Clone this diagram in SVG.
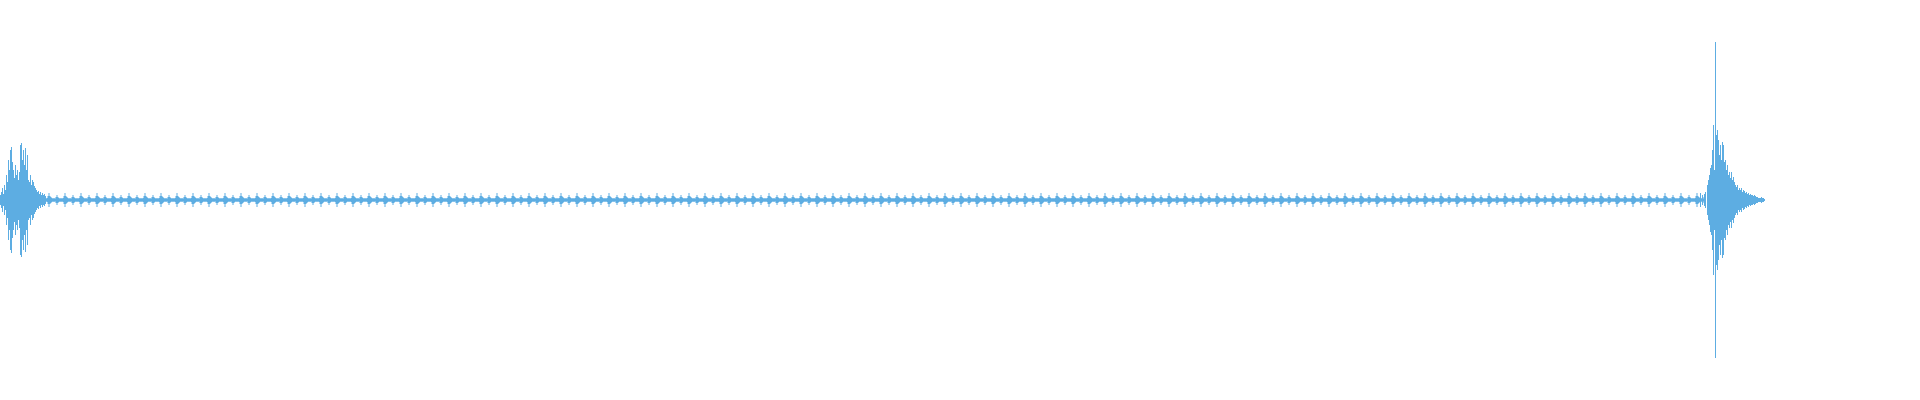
<svg xmlns="http://www.w3.org/2000/svg" width="1920" height="400" viewBox="0 0 1920 400">
<style>.w{stroke:#5dade2;stroke-width:1;fill:none}</style>
<defs>
<pattern id="noise" x="0.5" y="190" width="16" height="20" patternUnits="userSpaceOnUse">
<path class="w" d="M0.5 3V17M1.5 6V14M2.5 7V13M3.5 8V12M4.5 8.5V11.5M5.5 8V12M6.5 8.5V11.5M7.5 7V13M8.5 5V15M9.5 7V13M10.5 8V12M11.5 8.5V11.5M12.5 8V12M13.5 8.5V11.5M14.5 8V12M15.5 6V14"/>
</pattern>
</defs>
<rect width="1920" height="400" fill="#fff"/>
<rect x="46" y="190" width="1660" height="20" fill="url(#noise)"/>
<path class="w" d="M0.5 195V205M1.5 192V208M2.5 188V212M3.5 194V206M4.5 185V215M5.5 190V210M6.5 175V225M7.5 182V218M8.5 160V240M9.5 170V230M10.5 150V250M11.5 147V253M12.5 162V238M13.5 170V230M14.5 178V222M15.5 165V235M16.5 175V225M17.5 170V230M18.5 180V220M19.5 172V228M20.5 145V255M21.5 143V257M22.5 160V240M23.5 150V250M24.5 165V235M25.5 148V252M26.5 170V230M27.5 155V245M28.5 180V220M29.5 182V218M30.5 175V225M31.5 185V215M32.5 180V220M33.5 182V218M34.5 186V214M35.5 188V212M36.5 190V210M37.5 192V208M38.5 191V209M39.5 194V206M40.5 192V208M41.5 195V205M42.5 193V207M43.5 195V205M44.5 194V206M45.5 196V204"/>
<path class="w" d="M1700.5 193V207M1702.5 195V205M1704.5 194V206M1705.5 192V208M1707.5 185V215M1708.5 180V220M1709.5 175V225M1710.5 168V232M1711.5 165V235M1712.5 150V250M1713.5 125V275M1714.5 170V230M1715.5 42V358M1716.5 135V265M1717.5 130V270M1718.5 140V260M1719.5 155V245M1720.5 145V255M1721.5 160V240M1722.5 142V258M1723.5 145V255M1724.5 162V238M1725.5 160V240M1726.5 170V230M1727.5 165V235M1728.5 175V225M1729.5 172V228M1730.5 178V222M1731.5 172V228M1732.5 180V220M1733.5 177V223M1734.5 182V218M1735.5 185V215M1736.5 187V213M1737.5 185V215M1738.5 190V210M1739.5 188V212M1740.5 190V210M1741.5 188V212M1742.5 192V208M1743.5 190V210M1744.5 191V209M1745.5 193V207M1746.5 192V208M1747.5 194V206M1748.5 193V207M1749.5 195V205M1750.5 194V206M1751.5 195V205M1752.5 195V205M1753.5 196V204M1754.5 195V205M1755.5 196V204M1756.5 197V203M1757.5 197V203M1758.5 198V202M1759.5 198V202M1760.5 198V202M1761.5 197V203M1762.5 198V202M1763.5 198V202M1764.5 199V201"/>
</svg>
